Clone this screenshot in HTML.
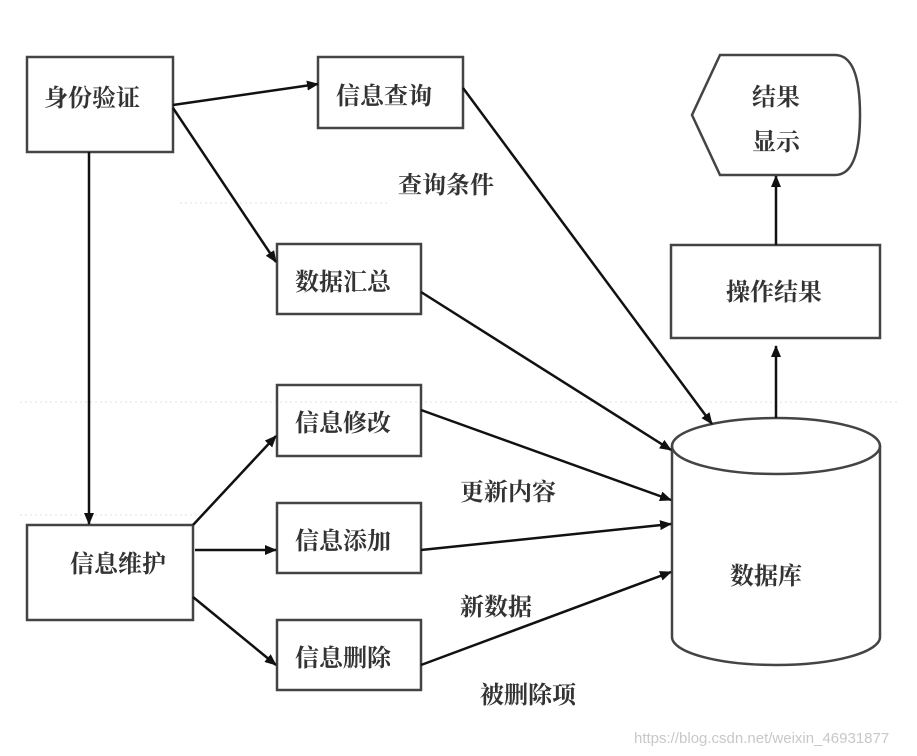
<!DOCTYPE html>
<html><head><meta charset="utf-8"><style>
body{margin:0;background:#fff;}
svg{display:block;}
text{font-family:"Liberation Serif","Noto Serif CJK SC",serif;font-size:24px;fill:#333;font-weight:bold;}
.w{font-family:"Liberation Sans",sans-serif;font-size:15px;fill:#c8c8c8;font-weight:normal;}
</style></head><body>
<svg width="917" height="756" viewBox="0 0 917 756" xmlns="http://www.w3.org/2000/svg">
<defs><marker id="a" markerWidth="12" markerHeight="10" refX="11" refY="5" orient="auto" markerUnits="userSpaceOnUse"><path d="M0,0 L12,5 L0,10 Z" fill="#111"/></marker></defs>
<g stroke="#e0e0e0" stroke-dasharray="2,3" stroke-width="1">
<line x1="20" y1="402" x2="900" y2="402"/><line x1="20" y1="515" x2="200" y2="515"/><line x1="180" y1="203" x2="390" y2="203"/>
</g>
<g fill="none" stroke="#444" stroke-width="2.5">
<rect x="27" y="57" width="146" height="95"/>
<rect x="318" y="57" width="145" height="71"/>
<rect x="277" y="244" width="144" height="70"/>
<rect x="277" y="385" width="144" height="71"/>
<rect x="277" y="503" width="144" height="70"/>
<rect x="277" y="620" width="144" height="70"/>
<rect x="27" y="525" width="166" height="95"/>
<rect x="671" y="245" width="209" height="93"/>
<path d="M720,55 L835,55 Q860,55 860,115 Q860,175 835,175 L720,175 L692,115 Z"/>
<path d="M672,446 L672,637 A104,28 0 0 0 880,637 L880,446"/>
<ellipse cx="776" cy="446" rx="104" ry="28"/>
</g>
<g stroke="#111" stroke-width="2.5" marker-end="url(#a)">
<line x1="173" y1="105" x2="318" y2="84"/>
<line x1="173" y1="108" x2="276" y2="262"/>
<line x1="89" y1="152" x2="89" y2="524"/>
<line x1="193" y1="525" x2="276" y2="436"/>
<line x1="195" y1="550" x2="276" y2="550"/>
<line x1="193" y1="597" x2="276" y2="665"/>
<line x1="463" y1="88" x2="712" y2="424"/>
<line x1="421" y1="292" x2="671" y2="450"/>
<line x1="421" y1="410" x2="671" y2="500"/>
<line x1="421" y1="550" x2="671" y2="524"/>
<line x1="421" y1="665" x2="671" y2="572"/>
<line x1="776" y1="418" x2="776" y2="346"/>
<line x1="776" y1="245" x2="776" y2="176"/>
</g>
<text x="44" y="106">身份验证</text>
<text x="336" y="104">信息查询</text>
<text x="295" y="290">数据汇总</text>
<text x="295" y="431">信息修改</text>
<text x="295" y="549">信息添加</text>
<text x="295" y="666">信息删除</text>
<text x="70" y="572">信息维护</text>
<text x="726" y="300">操作结果</text>
<text x="752" y="105">结果</text>
<text x="752" y="150">显示</text>
<text x="730" y="584">数据库</text>
<text x="398" y="193">查询条件</text>
<text x="460" y="500">更新内容</text>
<text x="460" y="615">新数据</text>
<text x="480" y="703">被删除项</text>
<text class="w" x="634" y="743">https://blog.csdn.net/weixin_46931877</text>
</svg>
</body></html>
